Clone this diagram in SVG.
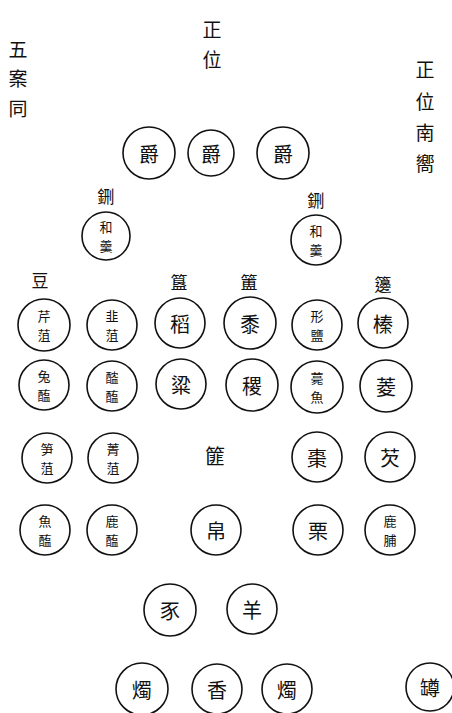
<svg xmlns="http://www.w3.org/2000/svg" width="452" height="713" viewBox="0 0 452 713">
<style>
text{font-family:"Noto Sans CJK TC","Noto Sans CJK SC",sans-serif;fill:#111;text-anchor:middle;dominant-baseline:central}
.big{font-size:19px}
.one{font-size:20px}
.two{font-size:13px}
.lab{font-size:17px}
circle{fill:#fff;stroke:#111;stroke-width:1.6}
</style>
<rect width="452" height="713" fill="#fff"/>
<g id="title-center"><text class="big" x="212" y="28">正</text><text class="big" x="212" y="58">位</text></g>
<g id="title-left"><text class="big" x="18" y="48">五</text><text class="big" x="18" y="77">案</text><text class="big" x="18" y="107">同</text></g>
<g id="title-right"><text class="big" x="425" y="68">正</text><text class="big" x="425" y="100">位</text><text class="big" x="425" y="131">南</text><text class="big" x="425" y="162">嚮</text></g>
<g id="connectors"></g>
<g id="jue1"><circle cx="149" cy="153" r="26"/><text class="one" x="149" y="153">爵</text></g>
<g id="jue2"><circle cx="211" cy="153" r="23"/><text class="one" x="211" y="153">爵</text></g>
<g id="jue3"><circle cx="283" cy="153" r="26"/><text class="one" x="283" y="153">爵</text></g>
<g id="xing-l-label"><text class="lab" x="106" y="195">鉶</text></g>
<g id="xing-r-label"><text class="lab" x="316" y="199">鉶</text></g>
<g id="hegeng-l"><circle cx="106" cy="236" r="24"/><text class="two" x="106" y="226.5">和</text><text class="two" x="106" y="245.5">羹</text></g>
<g id="hegeng-r"><circle cx="316" cy="240" r="25"/><text class="two" x="316" y="230.5">和</text><text class="two" x="316" y="249.5">羹</text></g>
<g id="label-dou"><text class="lab" x="40" y="279">豆</text></g>
<g id="label-gui"><text class="lab" x="179" y="281">簋</text></g>
<g id="label-fu"><text class="lab" x="249" y="281">簠</text></g>
<g id="label-bian"><text class="lab" x="383" y="283">籩</text></g>
<g id="r1c1"><circle cx="44" cy="325" r="26"/><text class="two" x="44" y="315.5">芹</text><text class="two" x="44" y="334.5">菹</text></g>
<g id="r1c2"><circle cx="112" cy="325" r="25"/><text class="two" x="112" y="315.5">韭</text><text class="two" x="112" y="334.5">菹</text></g>
<g id="r1c3"><circle cx="180" cy="323" r="25"/><text class="one" x="180" y="323">稻</text></g>
<g id="r1c4"><circle cx="250" cy="323" r="26"/><text class="one" x="250" y="323">黍</text></g>
<g id="r1c5"><circle cx="317" cy="325" r="25"/><text class="two" x="317" y="315.5">形</text><text class="two" x="317" y="334.5">鹽</text></g>
<g id="r1c6"><circle cx="383" cy="323" r="25"/><text class="one" x="383" y="323">榛</text></g>
<g id="r2c1"><circle cx="44" cy="385" r="25"/><text class="two" x="44" y="375.5">兔</text><text class="two" x="44" y="394.5">醢</text></g>
<g id="r2c2"><circle cx="112" cy="386" r="25"/><text class="two" x="112" y="376.5">醓</text><text class="two" x="112" y="395.5">醢</text></g>
<g id="r2c3"><circle cx="181" cy="384" r="25"/><text class="one" x="181" y="384">粱</text></g>
<g id="r2c4"><circle cx="252" cy="385" r="26"/><text class="one" x="252" y="385">稷</text></g>
<g id="r2c5"><circle cx="317" cy="387" r="26"/><text class="two" x="317" y="377.5">薧</text><text class="two" x="317" y="396.5">魚</text></g>
<g id="r2c6"><circle cx="386" cy="386" r="26"/><text class="one" x="386" y="386">菱</text></g>
<g id="r3c1"><circle cx="47" cy="458" r="25"/><text class="two" x="47" y="448.5">笋</text><text class="two" x="47" y="467.5">菹</text></g>
<g id="r3c2"><circle cx="113" cy="458" r="25"/><text class="two" x="113" y="448.5">菁</text><text class="two" x="113" y="467.5">菹</text></g>
<g id="fei-label"><text class="one" x="215" y="455">篚</text></g>
<g id="r3c4"><circle cx="317" cy="457" r="25"/><text class="one" x="317" y="457">棗</text></g>
<g id="r3c5"><circle cx="390" cy="457" r="25"/><text class="one" x="390" y="457">芡</text></g>
<g id="r4c1"><circle cx="45" cy="530" r="25"/><text class="two" x="45" y="520.5">魚</text><text class="two" x="45" y="539.5">醢</text></g>
<g id="r4c2"><circle cx="112" cy="530" r="25"/><text class="two" x="112" y="520.5">鹿</text><text class="two" x="112" y="539.5">醢</text></g>
<g id="bo"><circle cx="216" cy="530" r="25"/><text class="one" x="216" y="530">帛</text></g>
<g id="r4c4"><circle cx="318" cy="530" r="25"/><text class="one" x="318" y="530">栗</text></g>
<g id="r4c5"><circle cx="390" cy="530" r="25"/><text class="two" x="390" y="520.5">鹿</text><text class="two" x="390" y="539.5">脯</text></g>
<g id="shi"><circle cx="170" cy="610" r="26"/><text class="one" x="170" y="610">豕</text></g>
<g id="yang"><circle cx="252" cy="609" r="25"/><text class="one" x="252" y="609">羊</text></g>
<g id="zhu-l"><circle cx="142" cy="689" r="26"/><text class="one" x="142" y="689">燭</text></g>
<g id="xiang"><circle cx="217" cy="689" r="25"/><text class="one" x="217" y="689">香</text></g>
<g id="zhu-r"><circle cx="287" cy="689" r="25"/><text class="one" x="287" y="689">燭</text></g>
<g id="zun"><circle cx="430" cy="687" r="24"/><text class="one" x="430" y="687">罇</text></g>
</svg>
